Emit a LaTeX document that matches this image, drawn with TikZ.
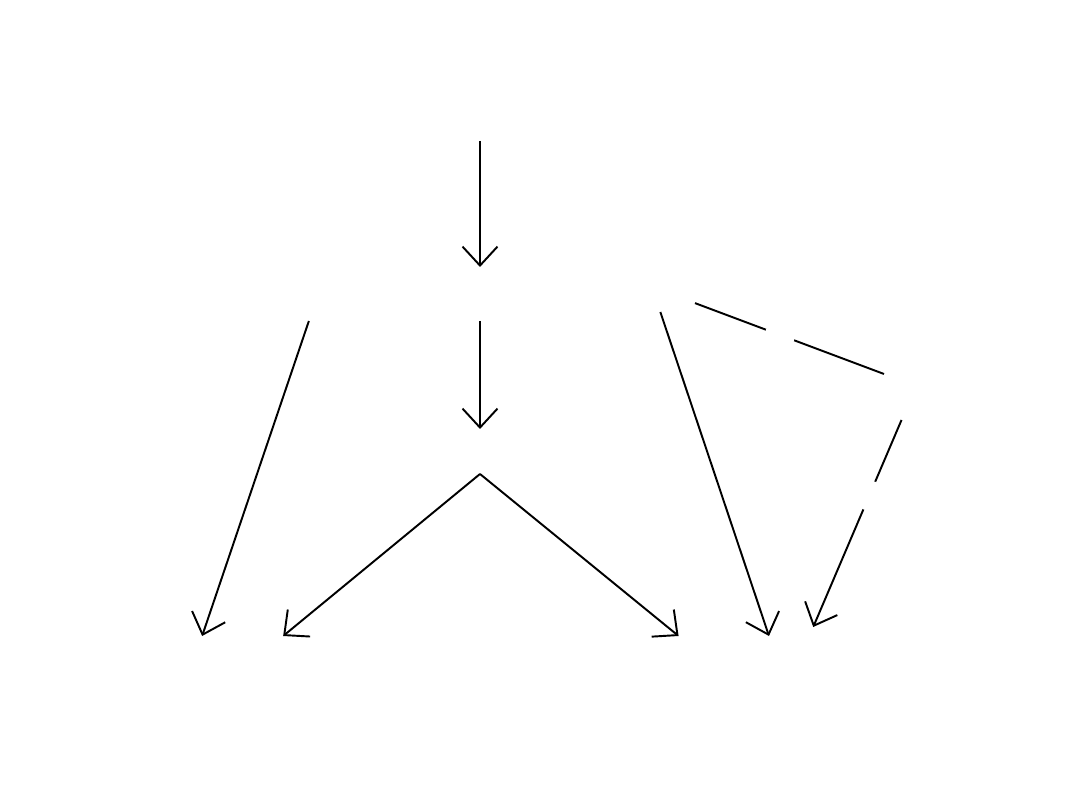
\documentclass[tikz,border=0pt]{standalone}
\usepackage{tikz}
\usetikzlibrary{arrows, arrows.meta}
\usetikzlibrary{positioning}

\tikzset{
  arr/.style={line width=1.1pt, -{Straight Barb[length=0.38cm, width=0.7cm, line width=1.1pt]}},
  gap/.style={circle, fill=white, minimum size=0.6cm},
  blank/.style={draw=none, minimum width=0.8cm, minimum height=1.08cm},
}

\begin{document}
\begin{tikzpicture}[x=0.02cm, y=-0.02cm]
\tikzstyle{every node}+=[inner sep=0pt, outer sep=0pt]
\useasboundingbox (0,0) rectangle (1080,810);
% middle column
\node [blank] (top) at (480,114) {};
\node [blank] (mid) at (480,294) {};
\node [blank, minimum height=0.9cm] (low) at (480,451.5) {};
% side nodes
\node [blank] (left) at (318,294) {};
\node [blank, minimum width=1.72cm, minimum height=1cm] (right) at (652,287) {};
\node [blank, minimum width=1.28cm, minimum height=1.36cm] (side) at (916,386) {};
% bottom row
\node [blank, minimum width=0.4cm, minimum height=0.96cm] (b1) at (194,660) {};
\node [blank, minimum width=1.28cm, minimum height=0.96cm] (b2) at (254,660) {};
\node [blank, minimum width=1.28cm, minimum height=0.96cm] (b3) at (708,660) {};
\node [blank, minimum width=0.4cm, minimum height=0.96cm] (b4) at (777,660) {};
\node [blank, minimum width=0.5cm, minimum height=0.96cm] (b5) at (803,651) {};
% arrows
\draw [arr] (top) -- (mid);
\draw [arr] (mid) -- (low);
\draw [arr] (left) -- (b1);
\draw [arr] (low.south) -- (b2);
\draw [arr] (low.south) -- (b3);
\draw [arr] (right) -- (b4);
\draw [line width=1.1pt] (right) -- node [pos=0.45, gap] {} (side);
\draw [arr] (side) -- node [pos=0.365, gap] {} (b5);
\end{tikzpicture}
\end{document}
